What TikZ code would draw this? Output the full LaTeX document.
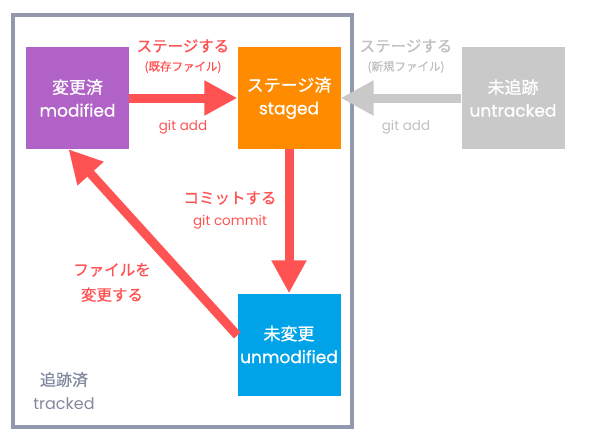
\documentclass[tikz,border=0pt]{standalone}
\usepackage{fontspec}
\setmainfont{Poppins}
\newfontfamily\latm{Poppins}[FakeBold=0.6]
\newfontfamily\jp{Noto Sans CJK JP}[FakeBold=0.8]
\usetikzlibrary{arrows.meta}
\definecolor{flowred}{HTML}{FF5353}
\definecolor{modpurple}{HTML}{B062C6}
\definecolor{stgorange}{HTML}{FF8C00}
\definecolor{untgray}{HTML}{C9C9C9}
\definecolor{unmblue}{HTML}{00A2E8}
\definecolor{framegray}{HTML}{9298AE}
\definecolor{lightgray}{HTML}{C0C0C0}
\begin{document}
\begin{tikzpicture}[x=1pt,y=-1pt,
	state/.style={minimum width=103pt,minimum height=102pt,inner sep=0pt,align=center,text=white,font=\fontsize{17}{23}\selectfont\latm},
	flow/.style={line width=9pt,-{Triangle[length=33pt,width=33pt]}},
	bigtag/.style={font=\fontsize{15.5}{18}\selectfont\jp},
	smalltag/.style={font=\fontsize{11.5}{14}\selectfont\jp},
	cmdtag/.style={font=\fontsize{13.5}{16}\selectfont}]
	\useasboundingbox (0,0) rectangle (590,442);
	%
	\def\row{98}
	%
	\draw [framegray,line width=4pt] (13,14.5) rectangle (352,427);
	\node [text=framegray!90!black,align=center,font=\fontsize{16}{24}\selectfont] (tracked) at (64,391) {{\jp 追跡済}\\tracked};
	%
	\node [state,fill=modpurple] (modified) at (77.5,\row) {{\jp 変更済}\\modified};
	\node [state,fill=stgorange] (staged) at (289,\row) {{\jp ステージ済}\\staged};
	\node [state,fill=untgray] (untracked) at (513,\row) {{\jp 未追跡}\\untracked};
	\node [state,fill=unmblue] (unmodified) at (289,344.5) {{\jp 未変更}\\unmodified};
	%
	\draw [flow,flowred] (modified) -- (staged);
	\draw [flow,untgray] (untracked) -- (staged);
	\draw [flow,flowred] (staged) -- (unmodified);
	\draw [flow,flowred] (unmodified.170) -- (modified.260);
	%
	\foreach \x/\c/\note in {183/flowred/既存ファイル,406/lightgray/新規ファイル}{
		\node [bigtag,text=\c] (stage-\note) at (\x,46) {ステージする};
		\node [smalltag,text=\c] (paren-\note) at (\x,67) {(\note)};
		\node [cmdtag,text=\c] (add-\note) at (\x,127) {git add};
	}
	\node [bigtag,text=flowred] (commit) at (230,198) {コミットする};
	\node [cmdtag,text=flowred] (gitcommit) at (230,222) {git commit};
	\node [text=flowred,align=center,font=\fontsize{15.5}{25}\selectfont\jp] (change) at (112,282.5) {ファイルを\\変更する};
\end{tikzpicture}
\end{document}
